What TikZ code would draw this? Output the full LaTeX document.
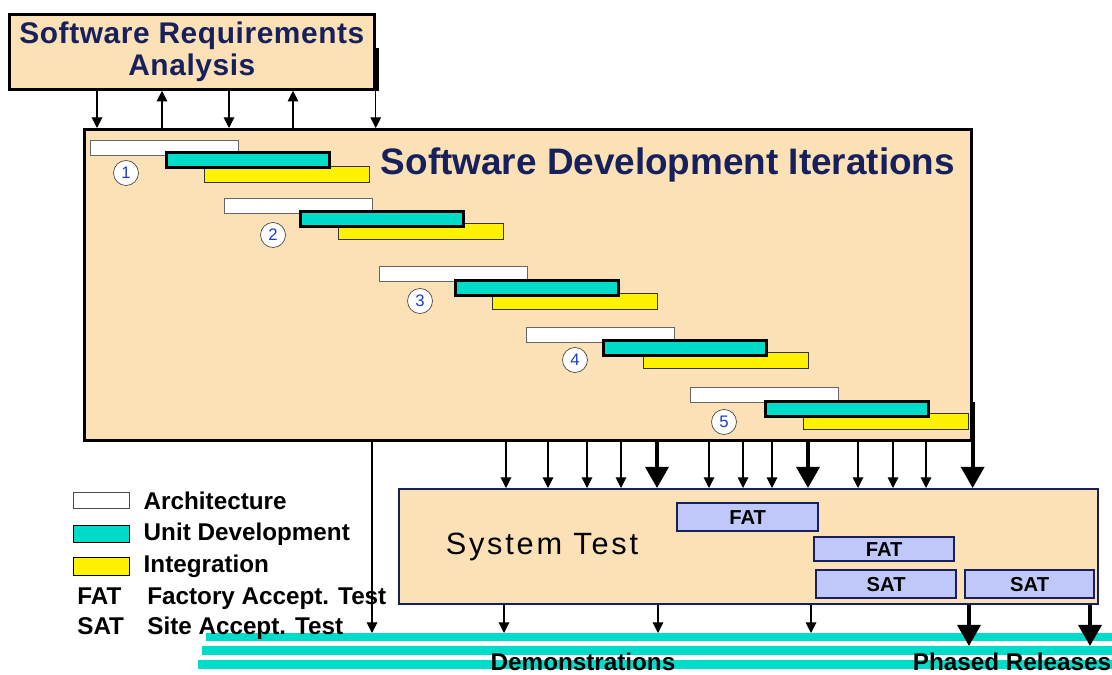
\documentclass[tikz,border=0pt]{standalone}
\usepackage{fontspec}
\setmainfont{Liberation Sans}
\usetikzlibrary{positioning,arrows.meta}
\definecolor{wheat}{RGB}{252,224,182}
\definecolor{navy}{RGB}{22,32,92}
\definecolor{tealc}{RGB}{0,220,202}
\definecolor{lav}{RGB}{192,200,250}
\definecolor{digit}{RGB}{30,60,200}
\tikzset{
  box/.style={draw, line width=1.6pt, fill=wheat, anchor=north west, inner sep=0pt},
  bar/.style={anchor=north west, inner sep=0pt},
  archbar/.style={bar, draw=black!60, fill=white, line width=0.7pt, minimum width=2.96cm, minimum height=0.3cm},
  unitbar/.style={bar, draw=black, fill=tealc, line width=1.6pt, minimum width=3.26cm, minimum height=0.3cm},
  intbar/.style={bar, draw=black!80, fill=yellow, line width=0.7pt, minimum width=3.3cm, minimum height=0.32cm},
  num/.style={draw=black!70, circle, fill=white, inner sep=0pt, minimum size=0.5cm, text=digit, font=\fontsize{9.5}{10}\selectfont},
  testbox/.style={draw=navy, fill=lav, line width=1.3pt, anchor=north west, inner sep=0pt, font=\bfseries\fontsize{11.5}{12}\selectfont},
  stripe/.style={fill=tealc, anchor=north west, inner sep=0pt},
  legtext/.style={font=\bfseries\fontsize{13.8}{14}\selectfont, inner sep=0pt},
  arr/.style={-{Triangle[width=6pt,length=6pt]}, line width=0.6pt},
  bigarr/.style={-{Triangle[width=13pt,length=12pt]}, line width=2.2pt},
}
\begin{document}
\begin{tikzpicture}[x=0.02cm,y=-0.02cm]
\useasboundingbox (0,0) rectangle (1112,675);
% requirements and iterations
\node[box, minimum width=7.3cm, minimum height=1.5cm, align=center, text=navy,
  font=\bfseries\fontsize{17}{18.5}\selectfont\addfontfeatures{LetterSpace=2}](sra) at (8,13) {Software Requirements\\Analysis};
\node[box, minimum width=17.74cm, minimum height=6.22cm](sdi) at (83,128) {};
\node[text=navy, font=\bfseries\fontsize{21}{22}\selectfont](title) at (668,165) {Software Development Iterations};
\draw[line width=2.2pt] ([xshift=0.5pt]sra.south east) -- ([xshift=0.5pt,yshift=0.86cm]sra.south east);
\draw[arr] (sra.south -| 97,0) -- (sdi.north -| 97,0);
\draw[arr] (sdi.north -| 162,0) -- (sra.south -| 162,0);
\draw[arr] (sra.south -| 229,0) -- (sdi.north -| 229,0);
\draw[arr] (sdi.north -| 293,0) -- (sra.south -| 293,0);
\draw[arr] (sra.south east) -- (sdi.north -| sra.south east);
% iteration 1
\node[archbar](a1) at (90,140) {};
\node[intbar](i1) at (204,166) {};
\node[unitbar](u1) at (165,151) {};
\node[num](n1) at (126,173) {1};
% iteration 2
\node[archbar](a2) at (224,198) {};
\node[intbar](i2) at (338,223) {};
\node[unitbar](u2) at (299,210) {};
\node[num](n2) at (273,235) {2};
% iteration 3
\node[archbar](a3) at (379,266) {};
\node[intbar](i3) at (492,293) {};
\node[unitbar](u3) at (454,279) {};
\node[num](n3) at (420,301) {3};
% iteration 4
\node[archbar](a4) at (526,327) {};
\node[intbar](i4) at (643,352) {};
\node[unitbar](u4) at (602,339) {};
\node[num](n4) at (575,360) {4};
% iteration 5
\node[archbar](a5) at (690,387) {};
\node[intbar](i5) at (803,413) {};
\node[unitbar](u5) at (764,400) {};
\node[num](n5) at (724,422) {5};
% system test
\node[box, draw=navy, line width=1.4pt, minimum width=13.98cm, minimum height=2.3cm](st) at (398,488) {};
\node[font=\fontsize{17.5}{18}\selectfont\addfontfeatures{LetterSpace=9}](sttxt) at (542,547) {System Test};
\node[testbox, minimum width=2.82cm, minimum height=0.56cm](fat1) at (676,502) {FAT};
\node[testbox, minimum width=2.8cm, minimum height=0.48cm](fat2) at (813,536) {FAT};
\node[testbox, minimum width=2.8cm, minimum height=0.56cm](sat1) at (815,569) {SAT};
\node[testbox, minimum width=2.58cm, minimum height=0.56cm](sat2) at (964,569) {SAT};
\foreach \x in {506,548,587,621,709,743,772,858,893,926}
  \draw[arr] (sdi.south -| \x,0) -- (st.north -| \x,0);
\foreach \x in {657,808}
  \draw[bigarr] (sdi.south -| \x,0) -- (st.north -| \x,0);
\draw[bigarr] ([yshift=0.8cm]sdi.south east) -- (st.north -| sdi.south east);
% releases
\node[stripe, minimum width=18.12cm, minimum height=0.16cm](rel1) at (206,633) {};
\node[stripe, minimum width=18.2cm, minimum height=0.18cm](rel2) at (202,646) {};
\node[stripe, minimum width=18.28cm, minimum height=0.18cm](rel3) at (198,660) {};
\draw[arr] (sdi.south -| 372,0) -- (rel1.north -| 372,0);
\foreach \x in {504,658,811}
  \draw[arr] (st.south -| \x,0) -- (rel1.north -| \x,0);
\foreach \x in {969,1090}
  \draw[bigarr] (st.south -| \x,0) -- (rel2.north -| \x,0);
\node[legtext](demo) at (583,662) {Demonstrations};
\node[legtext](phase) at (1012,662) {Phased Releases};
% legend
\node[bar, draw=black!70, fill=white, line width=0.8pt, minimum width=1.12cm, minimum height=0.32cm](lgarch) at (73,492) {};
\node[bar, draw=black, fill=tealc, line width=0.8pt, minimum width=1.12cm, minimum height=0.34cm](lgunit) at (73,525) {};
\node[bar, draw=black, fill=yellow, line width=0.8pt, minimum width=1.12cm, minimum height=0.36cm](lgint) at (73,557) {};
\node[legtext, right=0.26cm of lgarch](larch) {Architecture};
\node[legtext, right=0.26cm of lgunit](lunit) {Unit Development};
\node[legtext, right=0.26cm of lgint](lint) {Integration};
\node[legtext, anchor=base west](lfat) at (77,604) {FAT};
\node[legtext, anchor=base west](lfatx) at (147,604) {Factory Accept. Test};
\node[legtext, anchor=base west](lsat) at (77,634) {SAT};
\node[legtext, anchor=base west](lsatx) at (147,634) {Site Accept. Test};
\end{tikzpicture}
\end{document}
